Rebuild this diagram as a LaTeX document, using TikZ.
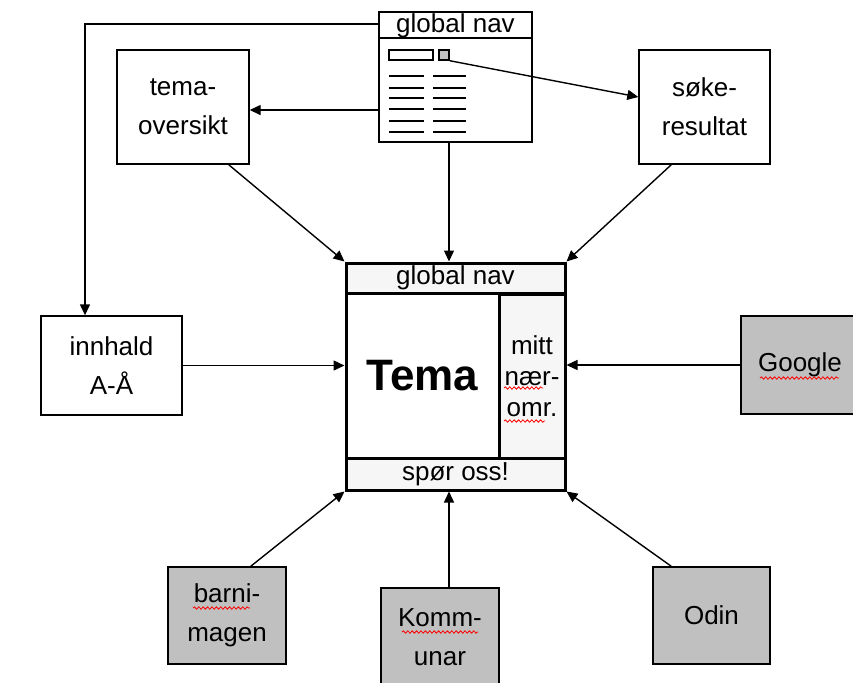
\documentclass[tikz,border=0pt]{standalone}
\usepackage{fontspec}
\setmainfont{Liberation Sans}
\usetikzlibrary{positioning, arrows.meta, decorations.pathmorphing}
\definecolor{silver}{RGB}{192,192,192}
\definecolor{band}{RGB}{246,246,246}
\tikzset{
  pagebox/.style={draw, line width=0.7pt, align=center, inner sep=0pt, font=\fontsize{13}{19.5}\selectfont},
  extbox/.style={pagebox, fill=silver},
  zone/.style={draw, line width=1.5pt, align=center, inner sep=0pt, font=\fontsize{13}{15.5}\selectfont},
  arr/.style={-{Triangle[length=5.5pt,width=5pt]}, line width=0.7pt},
  navline/.style={line width=0.9pt},
  spell/.style={red, line width=0.4pt, decorate, decoration={snake, amplitude=0.6pt, segment length=2.2pt}}
}

\begin{document}
\begin{tikzpicture}[x=0.5pt, y=-0.5pt]
  \clip (0,0) rectangle (853,682);

  \node[pagebox, minimum width=76.5pt, minimum height=65pt] (gnav) at (455.5,77) {};
  \node[pagebox, draw=none, minimum height=13pt] (gnavhead) at (455.5,26) {global nav};
  \draw[line width=0.7pt] (gnav.west |- 0,38) -- (gnav.east |- 0,38);
  \node[draw, line width=0.7pt, fill=white, minimum width=22pt, minimum height=5pt, inner sep=0pt] (field) at (411,55) {};
  \node[draw, line width=0.7pt, fill=silver, minimum width=5pt, minimum height=5pt, inner sep=0pt] (srch) at (444,55) {};
  \foreach \y in {76,88,98,109,121,132} {
    \draw[navline] (389,\y) -- (424,\y);
    \draw[navline] (433,\y) -- (466,\y);
  }

  \node[pagebox, minimum width=66pt, minimum height=57pt] (oversikt) at (183,107) {tema-\\oversikt};
  \node[pagebox, minimum width=65.5pt, minimum height=57pt] (soke) at (704.5,107) {søke-\\resultat};
  \node[pagebox, minimum width=70.5pt, minimum height=49.5pt] (innhald) at (111.5,365.5) {innhald\\A-Å};
  \node[extbox, minimum width=59pt, minimum height=49pt] (google) at (800,365) {Google};
  \node[extbox, minimum width=59pt, minimum height=48.5pt] (barn) at (227,615.5) {barni-\\magen};
  \node[extbox, minimum width=59pt, minimum height=49pt] (kom) at (440,637) {Komm-\\unar};
  \node[extbox, minimum width=58.5pt, minimum height=48.5pt] (odin) at (711.5,615.5) {Odin};

  \node[zone, fill=band, minimum width=109.5pt, minimum height=15pt] (topband) at (455.5,278) {global nav};
  \node[zone, fill=band, minimum width=33pt, minimum height=82.5pt] (mitt) at (532,376.5) {mitt\\nær-\\omr.};
  \node[zone, fill=white, minimum width=76.5pt, minimum height=82.5pt, font=\fontsize{22}{26}\selectfont\bfseries] (tema) at (422.5,375.5) {Tema};
  \node[zone, fill=band, minimum width=109.5pt, minimum height=16pt] (botband) at (455.5,474) {spør oss!};
  \node[zone, minimum width=109.5pt, minimum height=113.5pt] (main) at (455.5,376.5) {};

  \coordinate (bend) at (85,24);
  \coordinate (mid) at (449,0);

  \draw[arr] ([yshift=26.5pt]gnav.west) -- (bend) -- (bend |- innhald.north);
  \draw[arr] ([yshift=-16.5pt]gnav.west) -- ([yshift=-16.5pt]gnav.west -| oversikt.east);
  \draw[arr] (srch.south east) -- ([yshift=5pt]soke.west);
  \draw[arr] (gnav.south -| mid) -- (main.north -| mid);
  \draw[arr] ([xshift=-10.5pt]oversikt.south east) -- (main.north west);
  \draw[arr] ([xshift=16.5pt]soke.south west) -- (main.north east);
  \draw[arr] (innhald.east) -- (innhald.east -| main.west);
  \draw[arr] (google.west) -- (google.west -| main.east);
  \draw[arr] ([xshift=-18pt]barn.north east) -- (main.south west);
  \draw[arr] (kom.north -| mid) -- (main.south -| mid);
  \draw[arr] ([xshift=9.5pt]odin.north west) -- (main.south east);

  \draw[spell] (193,608) -- (250,608);
  \draw[spell] (402,632) -- (478,632);
  \draw[spell] (760,378) -- (839,378);
  \draw[spell] (504,388) -- (543,388);
  \draw[spell] (504,421) -- (545,421);
\end{tikzpicture}
\end{document}
